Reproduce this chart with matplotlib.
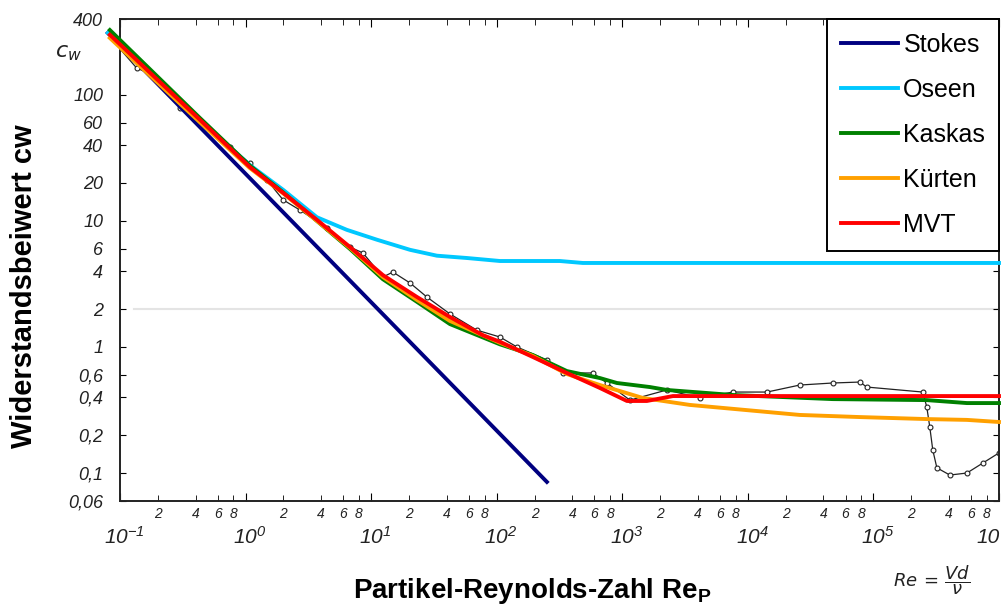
import matplotlib
matplotlib.use('Agg')
import matplotlib.pyplot as plt

plt.rcParams['font.family'] = ['Liberation Sans', 'DejaVu Sans']
plt.rcParams['mathtext.fontset'] = 'dejavusans'

# Widerstandsbeiwert einer Kugel über der Partikel-Reynolds-Zahl
re_stokes = [0.08, 251]
cw_stokes = [310, 0.085]

re_oseen = [0.08, 0.43, 1.08, 2.0, 3.7, 6.4, 11.1, 20.4, 33.4, 58, 106, 318, 485, 1e6]
cw_oseen = [310, 63, 27.8, 17.6, 10.7, 8.5, 7.1, 5.9, 5.3, 5.08, 4.81, 4.81, 4.64, 4.64]

re_kaskas = [0.083, 0.43, 1.08, 2.0, 3.7, 6.8, 12.4, 23.2, 42.4, 106, 194, 362,
             663, 906, 1660, 2265, 7600, 47500, 266000, 555000, 1e6]
cw_kaskas = [327, 66, 27.5, 16.8, 10.0, 5.98, 3.45, 2.28, 1.52, 1.05, 0.863, 0.644,
             0.567, 0.518, 0.481, 0.456, 0.416, 0.386, 0.379, 0.359, 0.359]

re_kurten = [0.083, 0.43, 1.08, 2.0, 3.7, 6.8, 12.4, 23.2, 42.4, 106, 194, 362,
             663, 1459, 3450, 25900, 78000, 266000, 555000, 1e6]
cw_kurten = [283, 61, 26.3, 16.5, 10.0, 6.1, 3.59, 2.36, 1.61, 1.08, 0.849, 0.61,
             0.499, 0.394, 0.347, 0.289, 0.278, 0.268, 0.264, 0.254]

re_mvt = [0.083, 0.434, 1.08, 1.99, 3.70, 6.78, 12.4, 23.2, 42.4, 77.6, 106, 194,
          362, 663, 1089, 1570, 2530, 1e6]
cw_mvt = [300, 63.3, 26.8, 16.7, 10.2, 6.21, 3.72, 2.49, 1.73, 1.24, 1.10, 0.833,
          0.622, 0.473, 0.373, 0.373, 0.408, 0.408]

# Messwerte
re_mess = [0.091, 0.136, 0.183, 0.301, 0.751, 1.08, 1.48, 1.99, 2.71, 4.45, 6.78, 8.6,
           12.4, 14.9, 20.4, 27.8, 42.4, 69.5, 106, 145, 251, 337, 583, 754, 1150,
           2265, 4150, 7600, 14200, 25900, 47500, 78000, 88500, 247000, 266000,
           281000, 297000, 320000, 406000, 555000, 743000, 995000]
cw_mess = [258, 163, 144, 78.7, 38.6, 28.8, 21.1, 14.7, 12.2, 8.79, 6.21, 5.57,
           3.59, 3.93, 3.22, 2.49, 1.83, 1.36, 1.20, 1.0, 0.789, 0.622, 0.622, 0.518,
           0.379, 0.456, 0.394, 0.439, 0.439, 0.499, 0.518, 0.527, 0.481, 0.439,
           0.334, 0.232, 0.152, 0.110, 0.0964, 0.100, 0.120, 0.144]

y_ticks = [0.06, 0.1, 0.2, 0.4, 0.6, 1, 2, 4, 6, 10, 20, 40, 60, 100, 400]
y_labels = ['0,06', '0,1', '0,2', '0,4', '0,6', '1', '2', '4', '6', '10', '20',
            '40', '60', '100', '400']
decades = [1e-1, 1e0, 1e1, 1e2, 1e3, 1e4, 1e5]
decade_labels = [r'$\mathregular{10^{-1}}$', r'$\mathregular{10^{0}}$',
                 r'$\mathregular{10^{1}}$', r'$\mathregular{10^{2}}$',
                 r'$\mathregular{10^{3}}$', r'$\mathregular{10^{4}}$',
                 r'$\mathregular{10^{5}}$']

fig = plt.figure(figsize=(10.07, 6.11), dpi=100)
ax = fig.add_axes([120 / 1007, 110 / 611, 879 / 1007, 482 / 611])
ax.set_xscale('log')
ax.set_yscale('log')
ax.set_xlim(0.1, 1e6)
ax.set_ylim(0.06, 400)

ax.plot([0.13, 1e6], [2, 2], color='#e4e4e4', lw=1.5, zorder=1)
ax.plot(re_mess, cw_mess, color='#222222', lw=0.9, marker='o', ms=3.5,
        mfc='white', mec='#222222', mew=0.8, zorder=2)

lw = 2.8
ax.plot(re_stokes, cw_stokes, color='#000080', lw=lw, label='Stokes', clip_on=False, zorder=3)
ax.plot(re_oseen, cw_oseen, color='#00C8FF', lw=lw, label='Oseen', clip_on=False, zorder=3)
ax.plot(re_kaskas, cw_kaskas, color='#008000', lw=lw, label='Kaskas', clip_on=False, zorder=4)
ax.plot(re_kurten, cw_kurten, color='#FFA000', lw=lw, label='Kürten', clip_on=False, zorder=5)
ax.plot(re_mvt, cw_mvt, color='#FF0000', lw=lw, label='MVT', clip_on=False, zorder=6)

for s in ax.spines.values():
    s.set_linewidth(1.4)
    s.set_color('#222222')

ax.set_yticks(y_ticks)
ax.set_yticklabels(y_labels, fontstyle='italic', fontsize=13, color='#222222')
ax.yaxis.set_minor_locator(matplotlib.ticker.NullLocator())
ax.tick_params(axis='y', direction='in', length=4, pad=12, right=True)

minor_x = [m * d for d in decades for m in (2, 4, 6, 8)]
ax.set_xticks(decades + [1e6])
ax.set_xticks(minor_x, minor=True)
ax.set_xticklabels([])
ax.set_xticklabels([], minor=True)
ax.tick_params(axis='x', which='both', direction='in', top=True)
ax.tick_params(axis='x', which='major', length=6)
ax.tick_params(axis='x', which='minor', length=4)

xt = ax.get_xaxis_transform()
for d in decades:
    for m in (2, 4, 6, 8):
        ax.text(m * d, -0.028, str(m), transform=xt, ha='center', va='center',
                fontsize=10, fontstyle='italic', color='#222222')
for d, lab in zip(decades, decade_labels):
    ax.text(d * 1.08, -0.075, lab, transform=xt, ha='center', va='center',
            fontsize=15, fontstyle='italic', color='#222222')
ax.text(8.2e5, -0.075, '10', transform=xt, ha='center', va='center',
        fontsize=15, fontstyle='italic', color='#222222')

leg = ax.legend(loc='upper right', borderaxespad=0, fancybox=False, framealpha=1,
                edgecolor='black', fontsize=18, handlelength=2.3, handletextpad=0.2,
                labelspacing=0.84, borderpad=0.55)
leg.get_frame().set_linewidth(1.4)

fig.text(68 / 1007, 1 - 53 / 611, r'$c_w$', fontsize=16, ha='center', va='center',
         color='#222222')
fig.text(24 / 1007, 1 - 286 / 611, 'Widerstandsbeiwert cw', rotation=90,
         fontsize=21, fontweight='bold', ha='center', va='center')
fig.text(532 / 1007, 1 - 591 / 611, r'Partikel-Reynolds-Zahl Re$_\mathregular{P}$',
         fontsize=20, fontweight='bold', ha='center', va='center')
fig.text(932 / 1007, 1 - 580 / 611, r'$Re\,=\,\dfrac{Vd}{\nu}$', fontsize=13,
         ha='center', va='center', color='#222222')

fig.savefig('out.png', dpi=100)
